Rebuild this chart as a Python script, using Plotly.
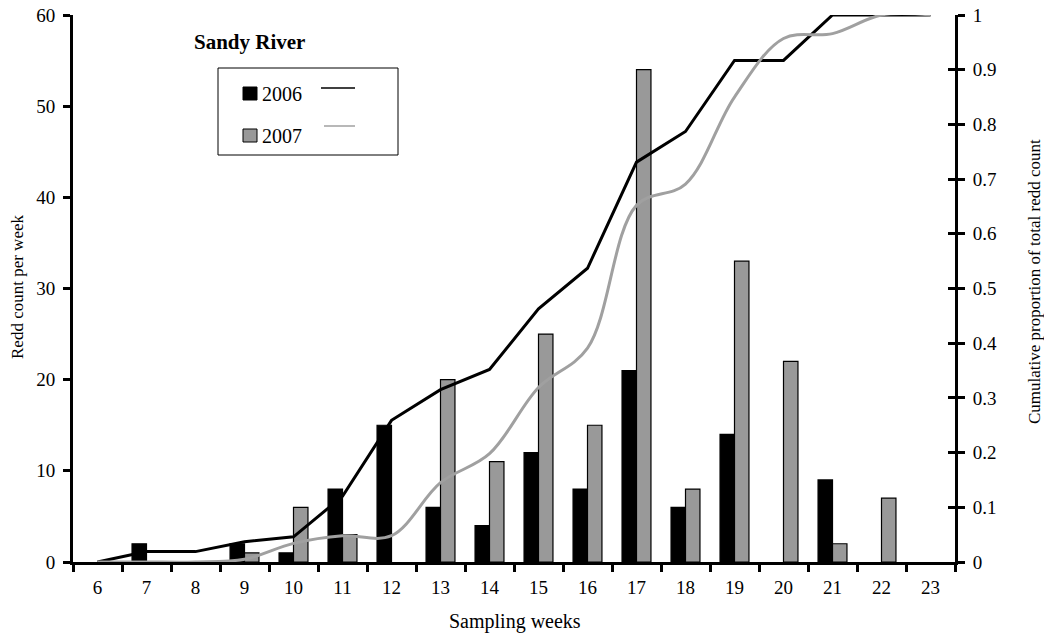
import plotly.graph_objects as go

weeks = [str(w) for w in range(6, 24)]
redds_2006 = [0, 2, 0, 2, 1, 8, 15, 6, 4, 12, 8, 21, 6, 14, 0, 9, 0, 0]
redds_2007 = [0, 0, 0, 1, 6, 3, 0, 20, 11, 25, 15, 54, 8, 33, 22, 2, 7, 0]
cum_2006 = [0, 0.019, 0.019, 0.037, 0.046, 0.120, 0.259, 0.315, 0.352, 0.463,
            0.537, 0.731, 0.787, 0.917, 0.917, 1.0, 1.0, 1.0]
cum_2007 = [0, 0, 0, 0.005, 0.034, 0.048, 0.048, 0.145, 0.198, 0.319,
            0.391, 0.652, 0.691, 0.850, 0.957, 0.966, 1.0, 1.0]

FONT = "Liberation Serif, Times New Roman, serif"
W, H = 1044, 634
# plot area in window pixels
L, R, T, B = 73, 955, 15, 562


def px(x):
    return (x - L) / (R - L)


def py(y):
    return (B - y) / (B - T)


def hide_zero(vals):
    return [v if v else None for v in vals]


fig = go.Figure()
fig.add_trace(go.Bar(x=weeks, y=hide_zero(redds_2006), name="2006",
                     marker=dict(color="#000000", line=dict(color="#000000", width=1.2)),
                     offsetgroup="a"))
fig.add_trace(go.Bar(x=weeks, y=hide_zero(redds_2007), name="2007",
                     marker=dict(color="#999999", line=dict(color="#000000", width=1.2)),
                     offsetgroup="b"))
fig.add_trace(go.Scatter(x=weeks, y=cum_2006, mode="lines", yaxis="y2",
                         line=dict(color="#000000", width=3)))
fig.add_trace(go.Scatter(x=weeks, y=cum_2007, mode="lines", yaxis="y3",
                         line=dict(color="#a0a0a0", width=3, shape="spline", smoothing=1)))

axis_common = dict(showgrid=False, zeroline=False, showline=True, linecolor="black",
                   linewidth=3, tickcolor="black", tickwidth=3, ticklen=7, automargin=False,
                   ticklabeloverflow="allow",
                   tickfont=dict(family=FONT, size=19, color="black"))

fig.update_layout(
    width=W, height=H,
    margin=dict(l=L, r=W - R, t=T, b=H - B, autoexpand=False),
    paper_bgcolor="white", plot_bgcolor="white",
    showlegend=False,
    barmode="group", bargap=0.41, bargroupgap=0,
    xaxis=dict(**axis_common, type="category", ticks="outside", tickson="boundaries",
               range=[-0.5, 17.5], ticklabelstandoff=6),
    yaxis=dict(**axis_common, range=[0, 60], dtick=10, ticks="outside",
               ticklabelstandoff=4),
    yaxis2=dict(**axis_common, range=[0, 1], dtick=0.1, ticks="outside", side="right",
                overlaying="y", anchor="x", ticklabelstandoff=4),
    yaxis3=dict(range=[0, 1], dtick=0.1, ticks="inside", ticklen=7, tickwidth=3,
                tickcolor="black", side="right", overlaying="y", anchor="x",
                showticklabels=False, showgrid=False, zeroline=False, showline=False,
                automargin=False),
)

shapes = [
    dict(type="rect", xref="paper", yref="paper", x0=px(218), x1=px(398), y0=py(155), y1=py(68),
         line=dict(color="black", width=1), fillcolor="white", layer="above"),
    dict(type="rect", xref="paper", yref="paper", x0=px(243), x1=px(257), y0=py(100), y1=py(87),
         line=dict(color="black", width=1), fillcolor="black", layer="above"),
    dict(type="rect", xref="paper", yref="paper", x0=px(243), x1=px(257), y0=py(142), y1=py(129),
         line=dict(color="black", width=1), fillcolor="#999999", layer="above"),
    dict(type="line", xref="paper", yref="paper", x0=px(321), x1=px(355), y0=py(88), y1=py(88),
         line=dict(color="black", width=1.5), layer="above"),
    dict(type="line", xref="paper", yref="paper", x0=px(324), x1=px(355), y0=py(126), y1=py(126),
         line=dict(color="#a0a0a0", width=1.5), layer="above"),
]


def text(t, x, y, size, xanchor="left", angle=0):
    return dict(text=t, xref="paper", yref="paper", x=px(x), y=py(y),
                xanchor=xanchor, yanchor="middle", showarrow=False, textangle=angle,
                font=dict(family=FONT, size=size, color="black"))


annotations = [
    text("<b>Sandy River</b>", 192, 42, 21),
    text("2006", 260, 94, 20),
    text("2007", 260, 136, 20),
    text("Sampling weeks", 515, 621, 20, xanchor="center"),
    text("Redd count per week", 17, 287, 17, xanchor="center", angle=-90),
    text("Cumulative proportion of total redd count", 1034, 282, 17, xanchor="center", angle=-90),
]
fig.update_layout(shapes=shapes, annotations=annotations)

fig.write_html("out.html",
               config={"displayModeBar": False},
               post_script="document.body.style.margin='0';document.body.style.overflow='hidden';")
